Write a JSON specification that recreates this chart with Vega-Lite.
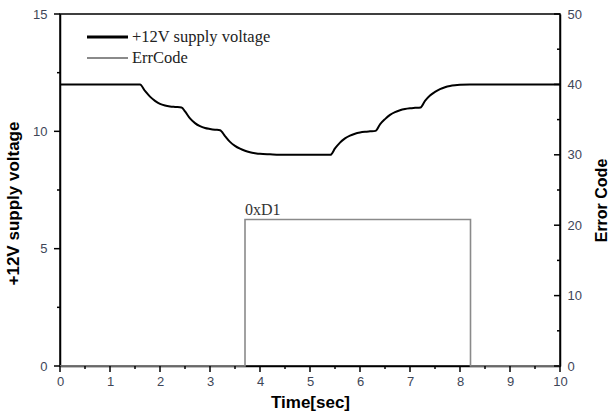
{
  "$schema": "https://vega.github.io/schema/vega-lite/v6.json",
  "width": 500,
  "height": 352,
  "autosize": "none",
  "padding": {"left": 60, "top": 14, "right": 48, "bottom": 50},
  "background": "white",
  "config": {
    "view": {"stroke": "black", "strokeWidth": 1.5},
    "axis": {
      "grid": false,
      "domainColor": "black",
      "domainWidth": 1.5,
      "ticks": false,
      "labelFont": "Liberation Sans",
      "labelFontSize": 13,
      "labelColor": "#3e4658",
      "labelFlush": false,
      "titleFont": "Liberation Sans",
      "titleFontSize": 17,
      "titleFontWeight": "bold",
      "titleColor": "black"
    }
  },
  "datasets": {
    "volt": [
      {"t": 0, "v": 12, "series": "+12V supply voltage"},
      {"t": 0.8, "v": 12, "series": "+12V supply voltage"},
      {"t": 1.6, "v": 12, "series": "+12V supply voltage"},
      {"t": 1.7, "v": 11.72, "series": "+12V supply voltage"},
      {"t": 1.8, "v": 11.48, "series": "+12V supply voltage"},
      {"t": 1.9, "v": 11.3, "series": "+12V supply voltage"},
      {"t": 2.0, "v": 11.17, "series": "+12V supply voltage"},
      {"t": 2.1, "v": 11.1, "series": "+12V supply voltage"},
      {"t": 2.2, "v": 11.06, "series": "+12V supply voltage"},
      {"t": 2.3, "v": 11.04, "series": "+12V supply voltage"},
      {"t": 2.43, "v": 11.02, "series": "+12V supply voltage"},
      {"t": 2.5, "v": 10.85, "series": "+12V supply voltage"},
      {"t": 2.6, "v": 10.55, "series": "+12V supply voltage"},
      {"t": 2.7, "v": 10.35, "series": "+12V supply voltage"},
      {"t": 2.8, "v": 10.22, "series": "+12V supply voltage"},
      {"t": 2.9, "v": 10.14, "series": "+12V supply voltage"},
      {"t": 3.0, "v": 10.1, "series": "+12V supply voltage"},
      {"t": 3.1, "v": 10.07, "series": "+12V supply voltage"},
      {"t": 3.2, "v": 10.05, "series": "+12V supply voltage"},
      {"t": 3.3, "v": 9.8, "series": "+12V supply voltage"},
      {"t": 3.4, "v": 9.55, "series": "+12V supply voltage"},
      {"t": 3.5, "v": 9.38, "series": "+12V supply voltage"},
      {"t": 3.6, "v": 9.26, "series": "+12V supply voltage"},
      {"t": 3.7, "v": 9.17, "series": "+12V supply voltage"},
      {"t": 3.8, "v": 9.11, "series": "+12V supply voltage"},
      {"t": 3.9, "v": 9.07, "series": "+12V supply voltage"},
      {"t": 4.0, "v": 9.04, "series": "+12V supply voltage"},
      {"t": 4.2, "v": 9.02, "series": "+12V supply voltage"},
      {"t": 4.5, "v": 9.0, "series": "+12V supply voltage"},
      {"t": 5.0, "v": 9.0, "series": "+12V supply voltage"},
      {"t": 5.41, "v": 9.0, "series": "+12V supply voltage"},
      {"t": 5.5, "v": 9.27, "series": "+12V supply voltage"},
      {"t": 5.6, "v": 9.52, "series": "+12V supply voltage"},
      {"t": 5.7, "v": 9.7, "series": "+12V supply voltage"},
      {"t": 5.8, "v": 9.82, "series": "+12V supply voltage"},
      {"t": 5.9, "v": 9.9, "series": "+12V supply voltage"},
      {"t": 6.0, "v": 9.95, "series": "+12V supply voltage"},
      {"t": 6.1, "v": 9.98, "series": "+12V supply voltage"},
      {"t": 6.2, "v": 10.0, "series": "+12V supply voltage"},
      {"t": 6.31, "v": 10.02, "series": "+12V supply voltage"},
      {"t": 6.4, "v": 10.3, "series": "+12V supply voltage"},
      {"t": 6.5, "v": 10.52, "series": "+12V supply voltage"},
      {"t": 6.6, "v": 10.7, "series": "+12V supply voltage"},
      {"t": 6.7, "v": 10.82, "series": "+12V supply voltage"},
      {"t": 6.8, "v": 10.9, "series": "+12V supply voltage"},
      {"t": 6.9, "v": 10.95, "series": "+12V supply voltage"},
      {"t": 7.0, "v": 10.98, "series": "+12V supply voltage"},
      {"t": 7.1, "v": 11.0, "series": "+12V supply voltage"},
      {"t": 7.21, "v": 11.02, "series": "+12V supply voltage"},
      {"t": 7.3, "v": 11.3, "series": "+12V supply voltage"},
      {"t": 7.4, "v": 11.53, "series": "+12V supply voltage"},
      {"t": 7.5, "v": 11.68, "series": "+12V supply voltage"},
      {"t": 7.6, "v": 11.8, "series": "+12V supply voltage"},
      {"t": 7.7, "v": 11.88, "series": "+12V supply voltage"},
      {"t": 7.8, "v": 11.93, "series": "+12V supply voltage"},
      {"t": 7.9, "v": 11.96, "series": "+12V supply voltage"},
      {"t": 8.0, "v": 11.98, "series": "+12V supply voltage"},
      {"t": 8.2, "v": 12, "series": "+12V supply voltage"},
      {"t": 9.0, "v": 12, "series": "+12V supply voltage"},
      {"t": 10, "v": 12, "series": "+12V supply voltage"}
    ],
    "err": [
      {"i": 0, "t": 0, "e": 0, "series": "ErrCode"},
      {"i": 1, "t": 3.7, "e": 0, "series": "ErrCode"},
      {"i": 2, "t": 3.7, "e": 20.8, "series": "ErrCode"},
      {"i": 3, "t": 8.21, "e": 20.8, "series": "ErrCode"},
      {"i": 4, "t": 8.21, "e": 0, "series": "ErrCode"},
      {"i": 5, "t": 10, "e": 0, "series": "ErrCode"}
    ],
    "lbl": [
      {"t": 3.7, "e": 20.8, "text": "0xD1"}
    ],
    "leg": [
      {"t": 0.54, "t2": 1.36, "tl": 1.44, "v": 14.02, "series": "+12V supply voltage", "w": 2.8},
      {"t": 0.54, "t2": 1.36, "tl": 1.44, "v": 13.13, "series": "ErrCode", "w": 2}
    ],
    "xmaj": [{"t": 0, "v": 0}, {"t": 1, "v": 0}, {"t": 2, "v": 0}, {"t": 3, "v": 0}, {"t": 4, "v": 0}, {"t": 5, "v": 0}, {"t": 6, "v": 0}, {"t": 7, "v": 0}, {"t": 8, "v": 0}, {"t": 9, "v": 0}, {"t": 10, "v": 0}],
    "xmin": [{"t": 0.5, "v": 0}, {"t": 1.5, "v": 0}, {"t": 2.5, "v": 0}, {"t": 3.5, "v": 0}, {"t": 4.5, "v": 0}, {"t": 5.5, "v": 0}, {"t": 6.5, "v": 0}, {"t": 7.5, "v": 0}, {"t": 8.5, "v": 0}, {"t": 9.5, "v": 0}],
    "lmaj": [{"t": 0, "v": 0}, {"t": 0, "v": 5}, {"t": 0, "v": 10}, {"t": 0, "v": 15}],
    "lmin": [{"t": 0, "v": 2.5}, {"t": 0, "v": 7.5}, {"t": 0, "v": 12.5}],
    "rmaj": [{"t": 10, "e": 0}, {"t": 10, "e": 10}, {"t": 10, "e": 20}, {"t": 10, "e": 30}, {"t": 10, "e": 40}, {"t": 10, "e": 50}],
    "rmin": [{"t": 10, "e": 5}, {"t": 10, "e": 15}, {"t": 10, "e": 25}, {"t": 10, "e": 35}, {"t": 10, "e": 45}]
  },
  "encoding": {
    "x": {
      "field": "t",
      "type": "quantitative",
      "scale": {"domain": [0, 10], "nice": false},
      "axis": {
        "title": "Time[sec]",
        "values": [0, 1, 2, 3, 4, 5, 6, 7, 8, 9, 10],
        "format": "d",
        "labelPadding": 9,
        "titlePadding": 6
      }
    }
  },
  "layer": [
    {
      "data": {"name": "volt"},
      "mark": {"type": "line", "interpolate": "monotone"},
      "encoding": {
        "y": {
          "field": "v",
          "type": "quantitative",
          "scale": {"domain": [0, 15], "nice": false},
          "axis": {
            "title": "+12V supply voltage",
            "orient": "left",
            "values": [0, 5, 10, 15],
            "labelPadding": 13,
            "titlePadding": 10,
            "titleY": 189
          }
        },
        "color": {
          "field": "series",
          "type": "nominal",
          "scale": {"domain": ["+12V supply voltage", "ErrCode"], "range": ["black", "#8a8a8a"]},
          "legend": null
        },
        "strokeWidth": {"value": 2}
      }
    },
    {
      "data": {"name": "err"},
      "mark": {"type": "line", "interpolate": "linear"},
      "encoding": {
        "y": {
          "field": "e",
          "type": "quantitative",
          "scale": {"domain": [0, 50], "nice": false},
          "axis": {
            "title": "Error Code",
            "orient": "right",
            "values": [0, 10, 20, 30, 40, 50],
            "labelPadding": 7,
            "titleFontSize": 16,
            "titleAngle": 270,
            "titleAlign": "center",
            "titleBaseline": "middle",
            "titleX": 41,
            "titleY": 186
          }
        },
        "order": {"field": "i"},
        "color": {"field": "series", "type": "nominal", "legend": null},
        "strokeWidth": {"value": 1.6}
      }
    },
    {
      "data": {"name": "lbl"},
      "mark": {"type": "text", "align": "left", "baseline": "alphabetic", "dy": -5, "font": "Liberation Serif", "fontSize": 16, "color": "#333333"},
      "encoding": {
        "y": {"field": "e", "type": "quantitative", "scale": {"domain": [0, 50], "nice": false}, "axis": null},
        "text": {"field": "text"}
      }
    },
    {
      "data": {"name": "leg"},
      "layer": [
        {
          "mark": {"type": "rule"},
          "encoding": {
            "x2": {"field": "t2"},
            "y": {"field": "v", "type": "quantitative", "scale": {"domain": [0, 15], "nice": false}, "axis": null},
            "color": {"field": "series", "type": "nominal", "legend": null},
            "strokeWidth": {"field": "w", "type": "quantitative", "scale": null}
          }
        },
        {
          "mark": {"type": "text", "align": "left", "baseline": "middle", "font": "Liberation Serif", "fontSize": 16.5, "color": "#222222"},
          "encoding": {
            "x": {"field": "tl", "type": "quantitative"},
            "y": {"field": "v", "type": "quantitative", "scale": {"domain": [0, 15], "nice": false}, "axis": null},
            "text": {"field": "series"}
          }
        }
      ]
    },
    {
      "data": {"name": "xmaj"},
      "mark": {"type": "tick", "orient": "vertical", "size": 6, "thickness": 1.5, "yOffset": 3, "color": "black", "opacity": 1},
      "encoding": {
        "y": {"field": "v", "type": "quantitative", "scale": {"domain": [0, 15], "nice": false}, "axis": null}
      }
    },
    {
      "data": {"name": "xmin"},
      "mark": {"type": "tick", "orient": "vertical", "size": 3, "thickness": 1.5, "yOffset": 1.5, "color": "black", "opacity": 1},
      "encoding": {
        "y": {"field": "v", "type": "quantitative", "scale": {"domain": [0, 15], "nice": false}, "axis": null}
      }
    },
    {
      "data": {"name": "lmaj"},
      "mark": {"type": "tick", "orient": "horizontal", "size": 6, "thickness": 1.5, "xOffset": -3, "color": "black", "opacity": 1},
      "encoding": {
        "y": {"field": "v", "type": "quantitative", "scale": {"domain": [0, 15], "nice": false}, "axis": null}
      }
    },
    {
      "data": {"name": "lmin"},
      "mark": {"type": "tick", "orient": "horizontal", "size": 3, "thickness": 1.5, "xOffset": -1.5, "color": "black", "opacity": 1},
      "encoding": {
        "y": {"field": "v", "type": "quantitative", "scale": {"domain": [0, 15], "nice": false}, "axis": null}
      }
    },
    {
      "data": {"name": "rmaj"},
      "mark": {"type": "tick", "orient": "horizontal", "size": 6, "thickness": 1.5, "xOffset": -3, "color": "black", "opacity": 1},
      "encoding": {
        "y": {"field": "e", "type": "quantitative", "scale": {"domain": [0, 50], "nice": false}, "axis": null}
      }
    },
    {
      "data": {"name": "rmin"},
      "mark": {"type": "tick", "orient": "horizontal", "size": 3, "thickness": 1.5, "xOffset": -1.5, "color": "black", "opacity": 1},
      "encoding": {
        "y": {"field": "e", "type": "quantitative", "scale": {"domain": [0, 50], "nice": false}, "axis": null}
      }
    }
  ],
  "resolve": {"scale": {"y": "independent"}}
}
